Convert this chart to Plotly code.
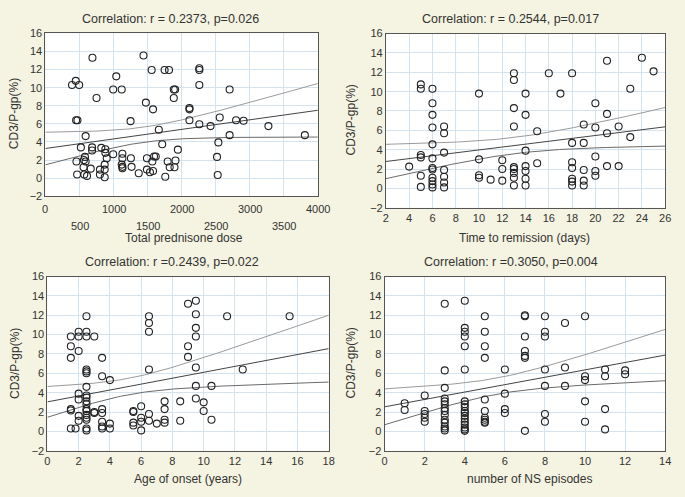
import numpy as np
import plotly.graph_objects as go

# ---------------- data ----------------
# Panel 1: Total prednisone dose vs CD3/P-gp(%)
dose_x = [390, 445, 495, 450, 470, 690, 750, 995, 1040, 1120, 1250, 1440, 1560, 1750, 1815,
          1475, 1580, 1665, 1715, 1885, 1905, 1885, 1945, 2115, 2115, 2115, 2260, 2260, 2260,
          2260, 2425, 2560, 2705, 2705, 2800, 2910, 3275, 3810, 2540, 2520, 2530, 590,
          520, 685, 685, 820, 880, 880, 995, 1130, 1130, 1255, 900, 870, 580, 565, 455, 590,
          560, 665, 465, 570, 610, 800, 800, 870, 870, 1130, 1130, 1265, 1370, 1490, 1595,
          1620, 1570, 1490, 1535, 1580, 1795, 1825, 1910, 1895, 1760, 1120]
dose_y = [10.3, 10.75, 10.3, 6.4, 6.4, 13.3, 8.85, 9.8, 11.25, 9.8, 6.3, 13.55, 11.95, 11.95, 11.95,
          8.35, 7.6, 5.35, 3.75, 9.8, 9.8, 8.85, 3.15, 7.75, 7.6, 6.4, 12.15, 11.95, 10.3,
          5.95, 5.75, 6.7, 9.8, 4.75, 6.4, 6.35, 5.75, 4.75, 3.95, 2.35, 0.35, 4.65,
          3.4, 3.4, 3.05, 3.35, 3.2, 2.8, 2.65, 2.7, 2.2, 2.2, 2.2, 1.5, 2.35, 2.0, 1.85, 1.85,
          1.2, 1.05, 0.4, 0.4, 0.25, 0.95, 0.4, 0.95, 0.1, 1.25, 1.1, 1.25, 0.55, 2.2, 2.4,
          2.4, 1.85, 0.95, 0.65, 0.8, 1.85, 1.2, 1.95, 1.2, 0.15, 1.5]

# Panel 2: Time to remission (days)
rem_x = [4,
         5, 5, 5, 5, 5, 5,
         6, 6, 6, 6, 6, 6, 6, 6, 6, 6, 6, 6,
         7, 7, 7, 7, 7, 7, 7,
         10, 10, 10, 10,
         11,
         12, 12, 12,
         13, 13, 13, 13, 13, 13, 13, 13, 13,
         14, 14, 14, 14, 14, 14, 14,
         15, 15, 16, 17,
         18, 18, 18, 18, 18, 18, 18,
         19, 19, 19, 19, 19,
         20, 20, 20, 20, 20,
         21, 21, 21, 21,
         22, 22, 23, 23, 24, 25]
rem_y = [2.25,
         10.75, 10.3, 3.45, 3.2, 1.3, 0.15,
         10.3, 8.8, 7.6, 6.3, 4.55, 3.1, 2.1, 1.95, 1.1, 0.75, 0.4, 0.1,
         6.4, 5.7, 3.7, 1.9, 1.2, 0.6, 0.1,
         9.8, 3.0, 1.35, 1.1,
         0.9,
         2.9, 2.0, 0.8,
         11.9, 11.2, 8.3, 6.4, 2.2, 2.0, 1.6, 1.1, 0.3,
         9.8, 7.6, 3.9, 2.3, 1.8, 1.0, 0.3,
         5.9, 2.6, 11.9, 9.8,
         11.9, 4.7, 2.7, 2.1, 1.0, 0.7, 0.3,
         6.6, 4.7, 1.9, 0.8, 0.3,
         8.8, 6.3, 3.3, 1.8, 1.3,
         13.2, 7.7, 5.7, 2.3,
         6.4, 2.3, 10.3, 5.3, 13.5, 12.1]

# Panel 3: Age of onset (years)
age_x = [1.5] * 6 + [1.8] + [2] * 7 + [2.5] * 18 + [3] * 3 + [3.5] * 7 + [4] * 3 + \
        [5.5] * 4 + [6] * 4 + [6.5] * 6 + [7] + [7.5] * 4 + [8.5] * 2 + [9] * 3 + \
        [9.5] * 7 + [10] * 2 + [10.5] * 2 + [11.5, 12.5, 15.5]
age_y = [9.8, 8.8, 7.6, 2.3, 2.15, 0.3,
         0.3,
         10.3, 9.8, 8.3, 3.9, 3.3, 1.6, 1.1,
         11.9, 10.3, 9.8, 6.4, 6.2, 6.0, 4.6, 3.7, 3.5, 3.1, 2.8, 2.3, 2.1, 1.7, 1.4, 1.2, 0.3, 0.1,
         9.8, 2.0, 1.9,
         7.6, 5.7, 2.3, 1.9, 1.0, 0.5, 0.3,
         5.3, 0.8, 0.3,
         2.1, 2.0, 0.9, 0.6,
         2.6, 1.4, 1.0, 0.1,
         11.9, 11.2, 10.3, 6.4, 1.8, 1.1,
         0.8,
         3.1, 2.3, 1.2, 0.9,
         3.1, 1.1,
         13.2, 8.8, 7.7,
         13.5, 12.1, 10.7, 9.8, 6.6, 4.7, 3.4,
         3.0, 2.1,
         4.7, 1.2,
         11.9, 6.4, 11.9]

# Panel 4: number of NS episodes
ns_x = [1] * 2 + [2] * 5 + [3] * 14 + [4] * 18 + [5] * 10 + [6] * 4 + [7] * 7 + \
       [8] * 7 + [9] * 3 + [10] * 5 + [11] * 4 + [12] * 2
ns_y = [2.9, 2.2,
        3.7, 2.1, 1.8, 1.4, 1.0,
        13.2, 6.3, 4.5, 3.4, 3.1, 2.8, 2.4, 2.1, 1.7, 1.2, 0.9, 0.5, 0.3, 0.1,
        13.5, 10.7, 10.3, 9.8, 8.8, 6.4, 3.1, 2.8, 2.5, 2.1, 1.9, 1.6, 1.3, 1.0, 0.7, 0.4, 0.2, 0.05,
        11.9, 10.3, 8.8, 7.6, 3.3, 2.1, 1.4, 1.2, 1.0, 0.9,
        6.4, 3.9, 2.3, 1.9,
        12.0, 11.9, 9.8, 8.3, 7.8, 7.6, 0.05,
        11.9, 10.3, 9.8, 6.4, 4.7, 1.8, 1.0,
        11.2, 6.6, 4.7,
        11.9, 5.7, 5.3, 3.1, 1.0,
        6.4, 5.7, 2.3, 0.2,
        6.3, 5.9]

titles = ["Correlation: r = 0.2373, p=0.026", "Correlation: r = 0.2544, p=0.017",
          "Correlation: r =0.2439, p=0.022", "Correlation: r =0.3050, p=0.004"]
xlabels = ["Total prednisone dose", "Time to remission (days)",
           "Age of onset (years)", "number of NS episodes"]
ylabel = "CD3/P-gp(%)"
y_ticks = [-2, 0, 2, 4, 6, 8, 10, 12, 14, 16]
dose_ticks_row1 = [0, 1000, 2000, 3000, 4000]
dose_ticks_row2 = [500, 1500, 2500, 3500]
rem_ticks = [2, 4, 6, 8, 10, 12, 14, 16, 18, 20, 22, 24, 26]
age_ticks = [0, 2, 4, 6, 8, 10, 12, 14, 16, 18]
ns_ticks = [0, 2, 4, 6, 8, 10, 12, 14]

# ---------------- layout geometry (pixels) ----------------
W, H = 685, 497
panels = [
    dict(x=dose_x, y=dose_y, ticks=dose_ticks_row1, px=(43, 319), py=(28, 195)),
    dict(x=rem_x, y=rem_y, ticks=rem_ticks, px=(388, 671), py=(28.3, 206.7)),
    dict(x=age_x, y=age_y, ticks=age_ticks, px=(45, 330), py=(277.3, 455.7)),
    dict(x=ns_x, y=ns_y, ticks=ns_ticks, px=(386.7, 671), py=(277.3, 455.7)),
]
title_pos = [(170, 13), (514, 13), (171, 262), (515, 262)]
xlab_pos = [(183, 238), (528, 238), (187, 485), (534, 485)]
ylab_pos = [(12, 110), (353, 117), (12, 366), (353, 366)]

FONT = "Liberation Sans, Arial, sans-serif"
TXT = "#333333"
fig = go.Figure()


def conf_band(x, y, xs):
    x = np.asarray(x, float)
    y = np.asarray(y, float)
    n = len(x)
    b, a = np.polyfit(x, y, 1)
    res = y - (a + b * x)
    s = np.sqrt(np.sum(res ** 2) / (n - 2))
    sxx = np.sum((x - x.mean()) ** 2)
    t = 1.99
    fit = a + b * xs
    half = t * s * np.sqrt(1.0 / n + (xs - x.mean()) ** 2 / sxx)
    return fit, fit - half, fit + half


for i, p in enumerate(panels):
    k = "" if i == 0 else str(i + 1)
    xa, ya = "x" + k, "y" + k
    lo, hi = p["ticks"][0], p["ticks"][-1]
    xs = np.linspace(lo, hi, 120)
    fit, low, up = conf_band(p["x"], p["y"], xs)
    for yy, col in [(up, "#9a9a9a"), (low, "#6a6a6a"), (fit, "#444444")]:
        fig.add_trace(go.Scatter(x=xs, y=yy, mode="lines", xaxis=xa, yaxis=ya,
                                 line=dict(color=col, width=1), hoverinfo="skip",
                                 showlegend=False))
    fig.add_trace(go.Scatter(x=p["x"], y=p["y"], mode="markers", xaxis=xa, yaxis=ya,
                             marker=dict(symbol="circle-open", size=7,
                                         color="#222222", line=dict(width=1.1)),
                             showlegend=False))

    dom_x = [p["px"][0] / W, p["px"][1] / W]
    dom_y = [1 - p["py"][1] / H, 1 - p["py"][0] / H]
    axis_common = dict(showgrid=True, gridcolor="#d5e3ee", gridwidth=1, zeroline=False,
                       showline=True, linecolor="#555555", linewidth=1, mirror=True,
                       ticks="", tickfont=dict(family=FONT, size=11, color=TXT))
    xextra = {}
    xrange = [lo, hi]
    if i == 0:
        # tiny padding so the end labels (0 and 4000) are kept
        xrange = [lo - 0.5, hi + 0.5]
        xextra = dict(showticklabels=False,
                      minor=dict(dtick=500, tick0=0, showgrid=True,
                                 gridcolor="#d5e3ee", gridwidth=1))
    fig.update_layout(**{
        ("xaxis" + k): dict(domain=dom_x, range=xrange, tickvals=p["ticks"],
                            ticktext=[str(v) for v in p["ticks"]], anchor=ya,
                            **axis_common, **xextra),
        ("yaxis" + k): dict(domain=dom_y, range=[-2, 16], tickvals=y_ticks,
                            anchor=xa, **axis_common),
    })
    fig.add_annotation(text=titles[i], x=title_pos[i][0] / W, y=1 - title_pos[i][1] / H,
                       xref="paper", yref="paper", showarrow=False,
                       font=dict(family=FONT, size=12.5, color=TXT),
                       xanchor="center", yanchor="middle")
    fig.add_annotation(text=xlabels[i], x=xlab_pos[i][0] / W, y=1 - xlab_pos[i][1] / H,
                       xref="paper", yref="paper", showarrow=False,
                       font=dict(family=FONT, size=12, color=TXT),
                       xanchor="center", yanchor="middle")
    fig.add_annotation(text=ylabel, x=ylab_pos[i][0] / W, y=1 - ylab_pos[i][1] / H,
                       xref="paper", yref="paper", showarrow=False, textangle=-90,
                       font=dict(family=FONT, size=12, color=TXT),
                       xanchor="center", yanchor="middle")

# staggered two-row tick labels on the prednisone-dose axis
for row_vals, ypix in [(dose_ticks_row1, 208), (dose_ticks_row2, 225)]:
    for v in row_vals:
        fig.add_annotation(text=str(v), x=v, xref="x", y=1 - ypix / H, yref="paper",
                           showarrow=False, font=dict(family=FONT, size=11, color=TXT),
                           xanchor="center", yanchor="middle")

fig.update_layout(width=W, height=H, margin=dict(l=0, r=0, t=0, b=0),
                  paper_bgcolor="#f5f3e1", plot_bgcolor="#ffffff", showlegend=False)

fig.write_html("out.html", config={"displayModeBar": False},
               post_script="document.body.style.margin='0';"
                           "document.body.style.overflow='hidden';")
